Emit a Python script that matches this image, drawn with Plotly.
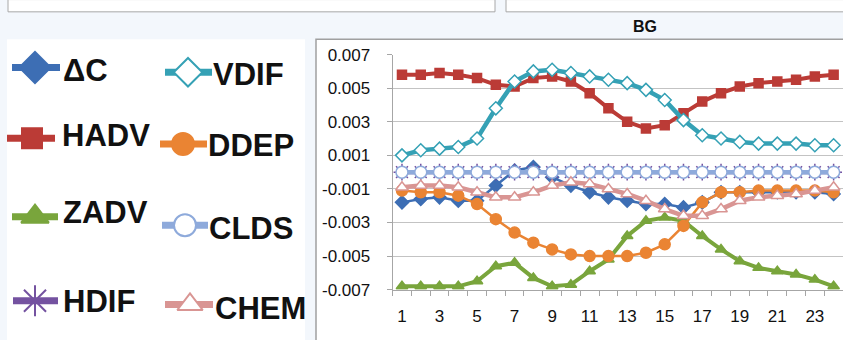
import plotly.graph_objects as go

hours = list(range(1, 25))
x_tick_labels = ["1", "3", "5", "7", "9", "11", "13", "15", "17", "19", "21", "23"]
y_ticks = [-0.007, -0.005, -0.003, -0.001, 0.001, 0.003, 0.005, 0.007]

dC = [-0.0018, -0.0016, -0.0015, -0.0017, -0.0017, -0.0008, 0.0001, 0.0003, -0.0003, -0.0008,
      -0.0012, -0.0015, -0.0017, -0.0019, -0.0019, -0.0021, -0.0018, -0.0012, -0.0012, -0.0012,
      -0.0012, -0.0012, -0.0012, -0.0013]
HADV = [0.0058, 0.0058, 0.0059, 0.0058, 0.0056, 0.0052, 0.0051, 0.0056, 0.0057, 0.0054,
        0.0047, 0.0038, 0.0030, 0.0026, 0.0028, 0.0035, 0.0042, 0.0047, 0.0051, 0.0053,
        0.0054, 0.0055, 0.0057, 0.0058]
ZADV = [-0.0068, -0.0068, -0.0068, -0.0068, -0.0065, -0.0056, -0.0054, -0.0063, -0.0068, -0.0067,
        -0.0059, -0.0052, -0.0038, -0.0029, -0.0027, -0.0029, -0.0038, -0.0046, -0.0053, -0.0057,
        -0.0059, -0.0061, -0.0064, -0.0068]
HDIF = [0.0, 0.0, 0.0, 0.0, 0.0, 0.0, 0.0, 0.0, 0.0, 0.0, 0.0, 0.0,
        0.0, 0.0, 0.0, 0.0, 0.0, 0.0, 0.0, 0.0, 0.0, 0.0, 0.0, 0.0]
VDIF = [0.0010, 0.0013, 0.0014, 0.0015, 0.0020, 0.0038, 0.0054, 0.0060, 0.0061, 0.0059,
        0.0057, 0.0055, 0.0053, 0.0049, 0.0043, 0.0031, 0.0022, 0.0020, 0.0018, 0.0017,
        0.0017, 0.0017, 0.0016, 0.0016]
DDEP = [-0.0011, -0.0012, -0.0012, -0.0014, -0.0019, -0.0028, -0.0036, -0.0042, -0.0046, -0.0049,
        -0.0050, -0.0050, -0.0050, -0.0048, -0.0043, -0.0032, -0.0018, -0.0012, -0.0012, -0.0011,
        -0.0011, -0.0011, -0.0011, -0.0012]
CLDS = [0.0, 0.0, 0.0, 0.0, 0.0, 0.0, 0.0, 0.0, 0.0, 0.0, 0.0, 0.0,
        0.0, 0.0, 0.0, 0.0, 0.0, 0.0, 0.0, 0.0, 0.0, 0.0, 0.0, 0.0]
CHEM = [-0.0009, -0.0008, -0.0008, -0.0009, -0.0012, -0.0015, -0.0015, -0.0012, -0.0008, -0.0006,
        -0.0007, -0.0010, -0.0013, -0.0017, -0.0022, -0.0026, -0.0026, -0.0022, -0.0017, -0.0015,
        -0.0014, -0.0013, -0.0011, -0.0009]

W, H = 843, 340

def px(x):
    return x / W

def py(y):
    return 1 - y / H

# name, values, color, symbol, marker fill, marker size, line width
series = [
    ("ΔC", dC, "#3d6eb4", "diamond", None, 10, 2.5),
    ("HADV", HADV, "#bb3b36", "square", None, 9, 4),
    ("ZADV", ZADV, "#79a53c", "triangle-up", None, 10, 4),
    ("HDIF", HDIF, "#7452a0", "asterisk-open", None, 14, 4),
    ("VDIF", VDIF, "#35a1b5", "diamond", "white", 10, 4.5),
    ("DDEP", DDEP, "#ea8433", "circle", None, 11, 2.5),
    ("CLDS", CLDS, "#8eaadb", "circle", "white", 12, 4.5),
    ("CHEM", CHEM, "#d99593", "triangle-up", "white", 11, 4.5),
]

fig = go.Figure()
for name, vals, color, sym, fill, ms, lw in series:
    fig.add_trace(go.Scatter(
        x=hours, y=vals, name=name, mode="lines+markers",
        line=dict(color=color, width=lw),
        marker=dict(symbol=sym, size=ms, color=fill if fill else color,
                    line=dict(color=color, width=1.5)),
        showlegend=False, xaxis="x", yaxis="y"))

# legend samples (drawn on an auxiliary pixel-space axis)
# name -> (line x0, marker x, line x1, line y, text x, text y, marker size)
legend_layout = {
    "ΔC":   (12, 35, 60, 62, 61, 65, 24),
    "HADV": (7, 32, 55, 137, 60, 134, 20),
    "ZADV": (12, 35, 58, 220, 61, 216, 24),
    "HDIF": (13, 35, 58, 309, 61, 310, 26),
    "VDIF": (165, 188, 212, 67, 211, 69, 22),
    "DDEP": (160, 183, 207, 143, 206, 145, 22),
    "CLDS": (162, 185, 208, 229, 207, 232, 22),
    "CHEM": (165, 190, 213, 313, 213, 317, 22),
}
annotations = []
for name, vals, color, sym, fill, ms, lw in series:
    x0, xm, x1, ly, tx, ty, lms = legend_layout[name]
    fig.add_trace(go.Scatter(
        x=[x0, x1], y=[ly, ly], mode="lines",
        line=dict(color=color, width=7), showlegend=False, hoverinfo="skip",
        xaxis="x2", yaxis="y2"))
    fig.add_trace(go.Scatter(
        x=[xm], y=[ly], mode="markers",
        marker=dict(symbol=sym, size=lms, color=fill if fill else color,
                    line=dict(color=color, width=2)),
        showlegend=False, hoverinfo="skip", xaxis="x2", yaxis="y2"))
    annotations.append(dict(
        x=tx, y=ty, xref="x2", yref="y2", xanchor="left", yanchor="middle",
        text="<b>" + name + "</b>", showarrow=False,
        font=dict(family="Liberation Sans, Arial", size=31, color="#111111")))

annotations.append(dict(
    x=px(645), y=py(19), xref="paper", yref="paper", xanchor="center", yanchor="middle",
    text="<b>BG</b>", showarrow=False,
    font=dict(family="Liberation Sans, Arial", size=16, color="#111111")))

shapes = [
    dict(type="rect", xref="paper", yref="paper", x0=px(8), x1=px(495), y0=py(3), y1=py(-10),
         fillcolor="white", line=dict(color="#a8a8a8", width=1), layer="below"),
    dict(type="rect", xref="paper", yref="paper", x0=px(506), x1=px(860), y0=py(3), y1=py(-10),
         fillcolor="white", line=dict(color="#a8a8a8", width=1), layer="below"),
    dict(type="rect", xref="paper", yref="paper", x0=px(7), x1=px(305), y0=py(360), y1=py(32),
         fillcolor="white", line=dict(width=0), layer="below"),
    dict(type="rect", xref="paper", yref="paper", x0=px(316), x1=px(870), y0=py(360), y1=py(32),
         fillcolor="white", line=dict(color="#a0a0a0", width=1.5), layer="below"),
]

tick_font = dict(family="Liberation Sans, Arial", size=17, color="#111111")

fig.update_layout(
    width=W, height=H,
    margin=dict(l=0, r=0, t=0, b=0),
    paper_bgcolor="#f3f7fc",
    plot_bgcolor="rgba(0,0,0,0)",
    showlegend=False,
    shapes=shapes,
    annotations=annotations,
    xaxis=dict(
        domain=[px(392.6), 1.0], range=[0.5, 24.5], anchor="y",
        tickvals=[int(t) for t in x_tick_labels], ticktext=x_tick_labels,
        ticks="", showgrid=False, zeroline=False,
        showline=True, linecolor="#a6a6a6", linewidth=1,
        minor=dict(tick0=0.5, dtick=1, ticks="outside", ticklen=5, tickcolor="#a6a6a6", showgrid=False),
        tickfont=tick_font, ticklabelstandoff=11,
    ),
    yaxis=dict(
        domain=[py(297.3), py(48.3)], range=[-0.007, 0.007], anchor="x",
        tickvals=y_ticks, ticktext=["%.3f" % v for v in y_ticks],
        ticks="outside", ticklen=5, tickcolor="#a6a6a6",
        showgrid=True, gridcolor="#c3c3c3", gridwidth=1, zeroline=False,
        showline=True, linecolor="#a6a6a6", linewidth=1,
        tickfont=tick_font, ticklabelstandoff=13,
    ),
    xaxis2=dict(domain=[0, px(310)], range=[0, 310], anchor="y2", visible=False, fixedrange=True),
    yaxis2=dict(domain=[0, 1], range=[340, 0], anchor="x2", visible=False, fixedrange=True),
)

pin_js = (
    "document.documentElement.style.margin='0';"
    "document.body.style.margin='0';document.body.style.padding='0';"
    "document.body.style.overflow='hidden';"
    "var g=document.getElementsByClassName('plotly-graph-div')[0];"
    "if(g){g.style.position='fixed';g.style.top='0px';g.style.left='0px';}"
)
fig.write_html("out.html", post_script=pin_js, config={"displayModeBar": False})
